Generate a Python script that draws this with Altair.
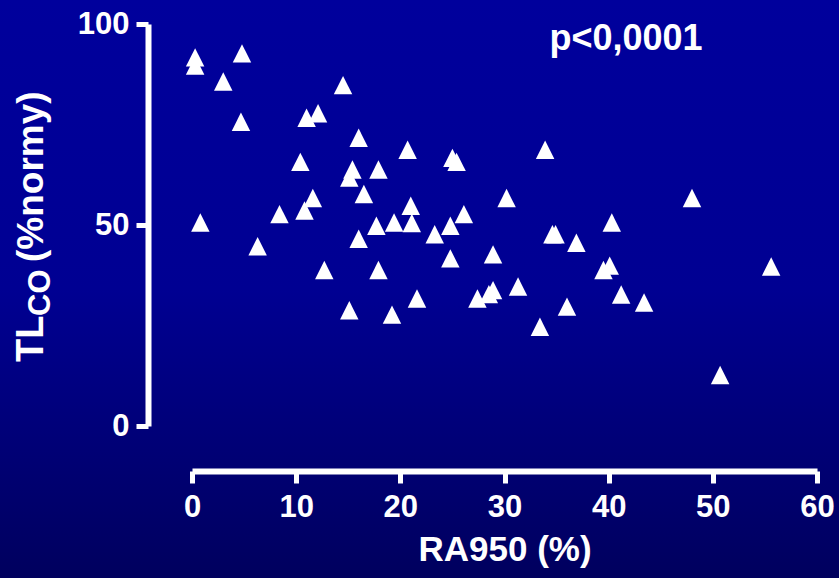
import altair as alt
import pandas as pd

# RA950 (%) values
ra950 = [0.3, 0.3, 4.8, 3.0, 4.7, 14.5, 12.1, 11.0, 16.0, 10.4,
         15.4, 15.1, 17.9, 16.5, 11.6, 10.8, 8.4, 0.8, 6.3, 17.7,
         16.0, 12.7, 17.9, 15.1, 19.2, 19.4, 21.1, 21.0, 20.7, 25.0,
         25.4, 33.9, 30.2, 26.1, 24.8, 23.3, 24.8, 28.9, 34.6, 34.9,
         36.9, 40.3, 39.5, 40.1, 21.6, 27.4, 28.5, 28.9, 31.3, 36.0,
         33.4, 41.2, 43.4, 48.0, 55.6, 50.7]
# TLCO (% of norm) values
tlco = [91.7, 89.7, 92.7, 85.7, 75.7, 84.8, 77.8, 76.7, 71.7, 65.7,
        63.8, 61.8, 63.8, 57.7, 56.7, 53.6, 52.7, 50.6, 44.7, 49.8,
        46.6, 38.8, 38.8, 28.8, 27.7, 50.6, 50.5, 54.8, 68.7, 66.7,
        65.7, 68.7, 56.7, 52.7, 49.8, 47.7, 41.7, 42.7, 47.7, 47.7,
        45.6, 50.6, 38.8, 39.9, 31.7, 31.7, 32.8, 33.8, 34.7, 29.7,
        24.7, 32.7, 30.7, 56.7, 39.7, 12.7]

x_ticks = [0, 10, 20, 30, 40, 50, 60]
y_ticks = [0, 50, 100]
x_title = "RA950 (%)"
y_title_main = "TL"
y_title_sub = "CO"
y_title_rest = "(%normy)"
p_text = "p<0,0001"

df = pd.DataFrame({"ra950": ra950, "tlco": tlco})

W, H = 625, 402
PAD = {"left": 192, "top": 24, "right": 22, "bottom": 152}
FONT = "Liberation Sans"

grad = alt.LinearGradient(
    gradient="linear",
    stops=[alt.GradientStop(color="#00009c", offset=0),
           alt.GradientStop(color="#000092", offset=0.5),
           alt.GradientStop(color="#00005e", offset=1)],
    x1=0, x2=0, y1=0, y2=1,
)

one = pd.DataFrame({"a": [0]})

bg = alt.Chart(one).mark_rect(fill=grad, clip=False).encode(
    x=alt.value(-PAD["left"]), x2=alt.value(W + PAD["right"]),
    y=alt.value(-PAD["top"]), y2=alt.value(H + PAD["bottom"]),
)

x_axis = alt.Axis(
    values=x_ticks, offset=45, title=x_title, grid=False,
    domainColor="white", domainWidth=6, tickColor="white", tickWidth=5,
    tickSize=12, labelColor="white", labelFont=FONT, labelFontSize=31,
    labelFontWeight="bold", labelPadding=9, labelFlush=False,
    labelOverlap=False, titleColor="white", titleFont=FONT,
    titleFontSize=35, titleFontWeight="bold", titlePadding=10, zindex=1,
)
y_axis = alt.Axis(
    values=y_ticks, offset=44, title=None, grid=False,
    domainColor="white", domainWidth=6, tickColor="white", tickWidth=5,
    tickSize=12, labelColor="white", labelFont=FONT, labelFontSize=31,
    labelFontWeight="bold", labelPadding=7, labelFlush=False,
    labelOverlap=False, zindex=1,
)

pts = alt.Chart(df).mark_point(
    shape="M0,-1L1,1L-1,1Z", filled=True, fill="white", opacity=1,
    size=340, strokeWidth=0,
).encode(
    x=alt.X("ra950:Q", scale=alt.Scale(domain=[0, 60], nice=False, zero=False), axis=x_axis),
    y=alt.Y("tlco:Q", scale=alt.Scale(domain=[0, 100], nice=False, zero=False), axis=y_axis),
)

def label(text, x, y, size, angle=0, align="left"):
    return alt.Chart(one).mark_text(
        text=text, font=FONT, fontSize=size, fontWeight="bold", color="white",
        angle=angle, align=align, baseline="alphabetic", clip=False,
    ).encode(x=alt.value(x), y=alt.value(y))

t_main = label(y_title_main, -149, 338, 38, angle=270)
t_sub = label(y_title_sub, -142, 292, 31, angle=270)
t_rest = label(y_title_rest, -149, 238, 37, angle=270)
t_p = label(p_text, 434, 26, 36, align="center")

chart = alt.layer(bg, pts, t_main, t_sub, t_rest, t_p).properties(
    width=W, height=H, autosize=alt.AutoSizeParams(type="none"),
    padding=PAD, background="#000088",
).configure_view(strokeWidth=0)

chart.save("out.html", embed_options={"renderer": "svg", "actions": False})
